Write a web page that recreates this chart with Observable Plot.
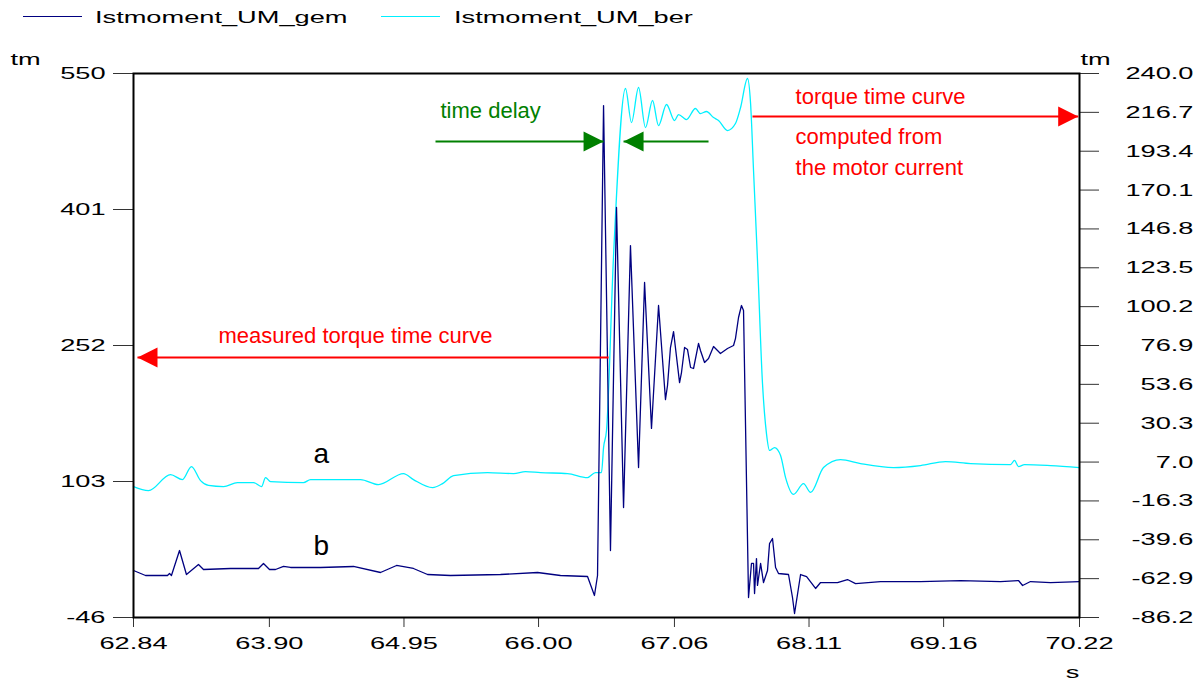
<!DOCTYPE html>
<html><head><meta charset="utf-8">
<script src="https://cdn.jsdelivr.net/npm/d3@7"></script>
<script src="https://cdn.jsdelivr.net/npm/@observablehq/plot@0.6"></script>
<style>
body{margin:0;background:#fff;font-family:"Liberation Sans",Arial,sans-serif;}
#legend{position:relative;width:1204px;height:34px;}
.lg-line{position:absolute;height:0;top:16px;width:59px;border-top:1.5px solid;}
.lg-text{position:absolute;top:9px;font-size:17px;line-height:17px;transform:scaleX(1.6);transform-origin:0 50%;white-space:nowrap;color:#000;}
</style></head><body>
<div id="legend"></div>
<script>
// ---- data ----
const seriesNames = ["Istmoment_UM_gem", "Istmoment_UM_ber"];
const seriesColors = ["#000080", "#00f0ff"];

// measured torque (left axis, tm)
const gemTime = [62.840,62.934,63.105,63.121,63.136,63.199,63.253,63.347,63.386,63.597,63.815,63.854,63.901,63.948,64.010,64.065,64.299,64.556,64.767,64.892,65.024,65.134,65.313,65.703,65.992,66.171,66.382,66.436,66.460,66.507,66.561,66.608,66.663,66.717,66.780,66.827,66.881,66.936,66.990,67.006,67.029,67.053,67.100,67.115,67.139,67.162,67.186,67.209,67.248,67.263,67.295,67.326,67.365,67.396,67.419,67.474,67.521,67.536,67.560,67.583,67.599,67.638,67.661,67.677,67.685,67.700,67.708,67.732,67.755,67.786,67.802,67.825,67.849,67.872,67.950,67.981,67.997,68.044,68.091,68.161,68.200,68.332,68.410,68.473,68.668,68.980,69.292,69.604,69.744,69.776,69.838,69.994,70.220];
const gemValue = [5.5,0.0,0.0,2.2,0.0,27.4,1.1,12.1,6.6,7.7,7.7,13.2,6.6,6.6,9.9,8.8,8.8,9.9,3.3,11.0,7.7,1.1,0.0,1.1,3.3,0.0,-1.1,-21.9,0.0,514.9,27.4,403.2,74.5,361.5,118.3,321.0,161.1,295.8,192.8,208.2,249.8,267.3,211.4,222.4,249.8,247.6,227.9,226.8,254.2,246.5,233.4,237.7,250.9,246.5,243.2,248.7,252.0,259.6,282.7,295.8,290.3,-24.1,13.2,13.2,-19.7,18.6,-10.9,13.2,-7.7,5.5,35.1,40.5,8.8,2.2,1.1,-24.1,-41.6,1.1,-1.1,-14.2,-7.7,-7.7,-4.4,-8.8,-6.6,-6.6,-5.5,-6.6,-5.5,-10.9,-6.6,-7.7,-6.6];

// computed torque (right axis, tm)
const berTime = [62.840,62.957,63.129,63.222,63.292,63.363,63.425,63.542,63.651,63.776,63.839,63.870,63.909,64.166,64.221,64.611,64.751,64.946,65.024,65.173,65.251,65.337,65.602,65.805,65.898,66.015,66.226,66.382,66.444,66.491,66.507,66.530,66.585,66.678,66.725,66.780,66.834,66.889,66.936,66.998,67.061,67.092,67.154,67.224,67.263,67.310,67.365,67.404,67.474,67.536,67.576,67.630,67.654,67.677,67.708,67.747,67.778,67.802,67.841,67.888,67.927,67.989,68.067,68.122,68.223,68.356,68.512,68.770,68.980,69.175,69.370,69.682,69.713,69.744,69.791,69.994,70.220];
const berValue = [-7.7,-10.1,-0.5,-3.5,4.3,-4.1,-7.0,-7.7,-5.3,-5.3,-7.7,-2.3,-4.7,-5.3,-3.5,-3.5,-6.5,0.1,-3.5,-8.3,-5.9,-1.1,0.7,0.1,1.3,0.7,0.1,-2.3,0.7,0.7,15.7,25.9,130.9,231.0,210.6,231.6,207.6,223.8,208.8,221.4,211.8,215.4,212.4,219.0,216.0,217.2,213.6,211.8,205.8,210.0,219.6,237.0,222.0,181.8,127.9,54.1,24.1,14.0,15.7,10.9,-2.3,-12.4,-5.9,-11.2,3.7,8.5,6.1,3.7,4.9,7.3,6.1,5.5,8.0,4.3,5.5,4.9,3.7];

const xTicks = [62.84, 63.90, 64.95, 66.00, 67.06, 68.11, 69.16, 70.22];
const leftTicks = [-46, 103, 252, 401, 550];
const rightTicks = [-86.2,-62.9,-39.6,-16.3,7.0,30.3,53.6,76.9,100.2,123.5,146.8,170.1,193.4,216.7,240.0];
const axisUnit = "tm";
const timeUnit = "s";

// annotations (x in s, y in left-axis units)
const noteTexts = [
  {text: "time delay", x: 65.235, y: 500.7, color: "#008000"},
  {text: "torque time curve", x: 68.005, y: 517.1, color: "#ff0000"},
  {text: "computed from", x: 68.005, y: 473.3, color: "#ff0000"},
  {text: "the motor current", x: 68.005, y: 439.3, color: "#ff0000"},
  {text: "measured torque time curve", x: 63.503, y: 254.2, color: "#ff0000"}
];
const curveLetters = [
  {text: "a", x: 64.244, y: 123.8},
  {text: "b", x: 64.244, y: 23.0}
];
const noteArrows = [
  {x1: 65.196, x2: 66.507, y: 475.5, color: "#008000"},
  {x1: 67.326, x2: 66.663, y: 475.5, color: "#008000"},
  {x1: 67.669, x2: 70.21, y: 502.8, color: "#ff0000"},
  {x1: 66.546, x2: 62.871, y: 238.8, color: "#ff0000"}
];

// ---- build ----
const L0 = leftTicks[0], L1 = leftTicks[leftTicks.length - 1];
const R0 = rightTicks[0], R1 = rightTicks[rightTicks.length - 1];
const toLeft = r => L0 + (r - R0) * (L1 - L0) / (R1 - R0);

const gem = gemTime.map((t, i) => ({t, v: gemValue[i]}));
const ber = berTime.map((t, i) => ({t, v: toLeft(berValue[i])}));

// legend
const legend = document.getElementById("legend");
const lgX = [[23, 95], [381, 454]];
seriesNames.forEach((name, i) => {
  const ln = document.createElement("div");
  ln.className = "lg-line";
  ln.style.left = lgX[i][0] + "px";
  ln.style.borderTopColor = seriesColors[i];
  legend.appendChild(ln);
  const tx = document.createElement("span");
  tx.className = "lg-text";
  tx.style.left = lgX[i][1] + "px";
  tx.textContent = name;
  legend.appendChild(tx);
});

const triRight = {draw(ctx) { ctx.moveTo(0, 0); ctx.lineTo(-20, -10); ctx.lineTo(-20, 10); ctx.closePath(); }};
const triLeft = {draw(ctx) { ctx.moveTo(0, 0); ctx.lineTo(20, -10); ctx.lineTo(20, 10); ctx.closePath(); }};

const svg = Plot.plot({
  width: 1204,
  height: 649,
  marginLeft: 133,
  marginRight: 125,
  marginTop: 39,
  marginBottom: 66,
  style: {fontFamily: '"Liberation Sans", Arial, sans-serif', fontSize: "17px", background: "white", color: "black"},
  x: {domain: [xTicks[0], xTicks[xTicks.length - 1]], axis: null},
  y: {domain: [L0, L1], axis: null},
  color: {type: "identity"},
  marks: [
    Plot.lineY(ber, {x: "t", y: "v", stroke: seriesColors[1], strokeWidth: 1.3, curve: "monotone-x"}),
    Plot.lineY(gem, {x: "t", y: "v", stroke: seriesColors[0], strokeWidth: 1.3}),
    Plot.axisY(leftTicks, {anchor: "left", tickSize: 20, tickPadding: 8, tickFormat: d => String(d), label: null, stroke: "#333"}),
    Plot.axisY(rightTicks.map(toLeft), {anchor: "right", tickSize: 19, tickFormat: () => "", label: null, stroke: "#333"}),
    Plot.text(rightTicks, {y: d => toLeft(d), text: d => d.toFixed(1), frameAnchor: "right", dx: 114, textAnchor: "end", fontSize: 17}),
    Plot.axisX(xTicks, {anchor: "bottom", tickSize: 10, tickPadding: 9, tickFormat: d => d.toFixed(2), label: null, stroke: "#333"}),
    Plot.frame({stroke: "black", strokeWidth: 2}),
    Plot.text([axisUnit], {text: d => d, frameAnchor: "top-left", dx: -123, dy: -21, textAnchor: "start", fontSize: 17}),
    Plot.text([axisUnit], {text: d => d, frameAnchor: "top-right", dx: 1, dy: -21, textAnchor: "start", fontSize: 17}),
    Plot.text([timeUnit], {text: d => d, frameAnchor: "bottom-right", dx: -7, dy: 60, textAnchor: "middle", fontSize: 17}),
    Plot.link(noteArrows, {x1: "x1", x2: "x2", y1: "y", y2: "y", stroke: "color", strokeWidth: 2}),
    Plot.dot(noteArrows.filter(d => d.x2 > d.x1), {x: "x2", y: "y", fill: "color", stroke: null, symbol: triRight, r: 7}),
    Plot.dot(noteArrows.filter(d => d.x2 < d.x1), {x: "x2", y: "y", fill: "color", stroke: null, symbol: triLeft, r: 7}),
    Plot.text(noteTexts, {x: "x", y: "y", text: "text", fill: "color", textAnchor: "start", lineAnchor: "bottom", fontSize: 22}),
    Plot.text(curveLetters, {x: "x", y: "y", text: "text", fill: "black", textAnchor: "start", lineAnchor: "bottom", fontSize: 28})
  ]
});
document.body.appendChild(svg);

// horizontally stretched axis lettering as in the reference
const S = 1.6;
svg.querySelectorAll('g[aria-label="y-axis tick label"] text, g[aria-label="x-axis tick label"] text, g[font-size="17"] text').forEach(t => {
  const x0 = +t.getAttribute("x") || 0;
  const tr = t.getAttribute("transform") || "";
  t.setAttribute("transform", `${tr} translate(${x0},0) scale(${S},1) translate(${-x0},0)`);
});
</script>
</body></html>
